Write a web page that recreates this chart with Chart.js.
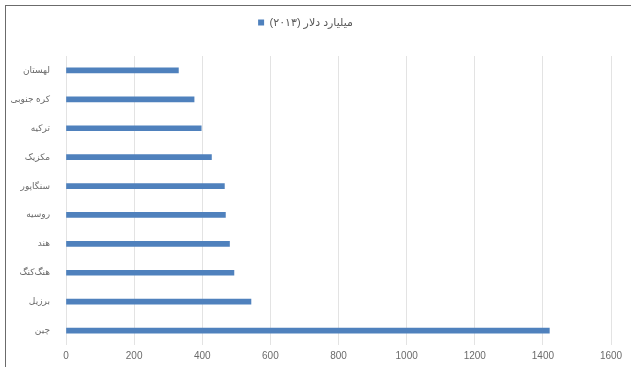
<!DOCTYPE html>
<html>
<head>
<meta charset="utf-8">
<script src="https://cdn.jsdelivr.net/npm/chart.js@4/dist/chart.umd.min.js"></script>
<style>
  html, body { margin: 0; padding: 0; background: #fff; }
  #frame {
    position: absolute; left: 5px; top: 5px; width: 640px; height: 380px;
    border-left: 1px solid #6b6b6b; border-top: 1px solid #6b6b6b;
  }
  #wrap { position: absolute; left: 0; top: 0; width: 631px; height: 367px; }
</style>
</head>
<body>
<div id="frame"></div>
<div id="wrap"><canvas id="chartPaises"></canvas></div>
<script>
const paises = [
  "لهستان",
  "کره جنوبی",
  "ترکیه",
  "مکزیک",
  "سنگاپور",
  "روسیه",
  "هند",
  "هنگ‌کنگ",
  "برزیل",
  "چین",
];
const valores = [330, 376, 397, 427, 465, 468, 480, 493, 543, 1419];
const serieNombre = "میلیارد دلار (۲۰۱۳)";
const ticksX = [0, 200, 400, 600, 800, 1000, 1200, 1400, 1600];

const azul = "#4f81bd";
const fuente = "'Liberation Sans', 'DejaVu Sans', sans-serif";

// espacio extra debajo de la leyenda
const espacioLeyenda = {
  id: "espacioLeyenda",
  beforeInit(chart) {
    const fitOriginal = chart.legend.fit;
    chart.legend.fit = function () {
      fitOriginal.bind(chart.legend)();
      this.height += 18;
    };
  },
};

const ctx = document.getElementById("chartPaises");

new Chart(ctx, {
  type: "bar",
  data: {
    labels: paises,
    datasets: [
      {
        label: serieNombre,
        data: valores,
        backgroundColor: azul,
        borderColor: azul,
        borderWidth: 0,
        barThickness: 5,
      },
    ],
  },
  options: {
    responsive: true,
    maintainAspectRatio: false,
    animation: false,
    indexAxis: "y",
    layout: {
      padding: { left: 0, right: 20, top: 7, bottom: 0 },
    },
    plugins: {
      legend: {
        display: true,
        position: "top",
        labels: {
          boxWidth: 6,
          boxHeight: 6,
          color: "#595959",
          font: { family: fuente, size: 11 },
          padding: 10,
        },
      },
      tooltip: { enabled: false },
    },
    scales: {
      x: {
        min: 0,
        max: 1600,
        afterBuildTicks: (axis) => {
          axis.ticks = ticksX.map((v) => ({ value: v }));
        },
        grid: { color: "#e3e3e3", drawTicks: false },
        border: { display: false },
        ticks: {
          color: "#6b6b6b",
          font: { family: fuente, size: 10 },
          padding: 5,
          callback: (v) => String(v),
        },
      },
      y: {
        afterFit: (axis) => {
          axis.width = 66;
        },
        grid: { display: false },
        border: { display: false },
        ticks: {
          color: "#6b6b6b",
          font: { family: fuente, size: 9 },
          padding: 8,
        },
      },
    },
  },
  plugins: [espacioLeyenda],
});
</script>
</body>
</html>
